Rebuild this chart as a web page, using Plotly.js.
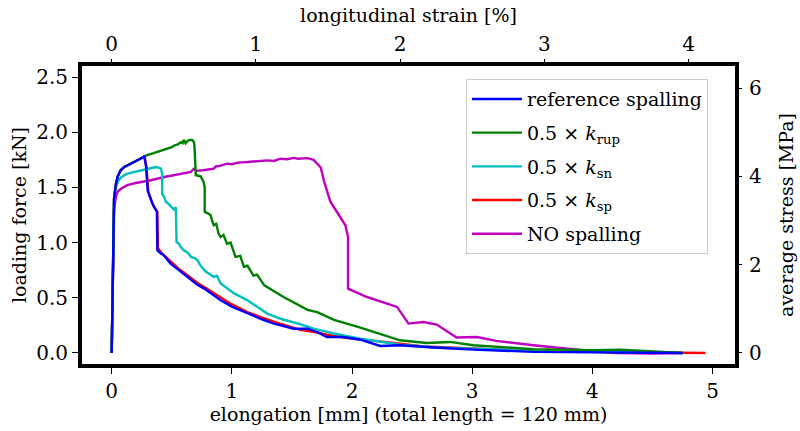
<!DOCTYPE html>
<html>
<head>
<meta charset="utf-8">
<script src="https://cdn.plot.ly/plotly-3.0.1.min.js"></script>
<style>html,body{margin:0;padding:0;background:#fff;} #chart{width:800px;height:431px;}</style>
</head>
<body>
<div id="chart"></div>
<script>
// ---- data (elongation in mm, force in kN) ----
const TOTAL_LENGTH_MM = 120;
const AREA_MM2 = 400;

const refX = [0, 0.012, 0.02, 0.035, 0.05, 0.075, 0.105, 0.15, 0.19, 0.23, 0.27, 0.285, 0.30, 0.315, 0.326, 0.34, 0.354, 0.365, 0.376, 0.38, 0.41, 0.43, 0.45, 0.49, 0.53, 0.575, 0.62, 0.66, 0.71, 0.77, 0.84, 0.907, 1.0, 1.13, 1.25, 1.35, 1.43, 1.515, 1.57, 1.63, 1.71, 1.79, 1.93, 2.07, 2.235, 2.40, 2.68, 3.01, 3.51, 4.0, 4.4, 4.75];
const refY = [0, 1.2, 1.40, 1.53, 1.60, 1.655, 1.685, 1.71, 1.73, 1.755, 1.78, 1.70, 1.47, 1.42, 1.38, 1.35, 1.32, 1.30, 1.28, 0.93, 0.90, 0.89, 0.86, 0.81, 0.775, 0.734, 0.70, 0.66, 0.62, 0.583, 0.53, 0.477, 0.42, 0.357, 0.305, 0.266, 0.245, 0.22, 0.22, 0.22, 0.19, 0.145, 0.145, 0.12, 0.063, 0.07, 0.049, 0.03, 0.01, 0.005, 0.002, 0.0];

const rupX = [0, 0.012, 0.02, 0.035, 0.05, 0.075, 0.105, 0.15, 0.19, 0.23, 0.27, 0.30, 0.35, 0.40, 0.45, 0.48, 0.50, 0.52, 0.55, 0.575, 0.59, 0.60, 0.615, 0.63, 0.645, 0.67, 0.685, 0.69, 0.70, 0.74, 0.765, 0.774, 0.774, 0.80, 0.824, 0.835, 0.85, 0.87, 0.89, 0.907, 0.93, 0.96, 0.99, 1.03, 1.07, 1.10, 1.13, 1.18, 1.21, 1.27, 1.43, 1.63, 1.71, 1.85, 2.07, 2.4, 2.62, 2.815, 3.01, 3.51, 4.0, 4.23, 4.5, 4.75];
const rupY = [0, 1.2, 1.40, 1.53, 1.60, 1.655, 1.685, 1.71, 1.73, 1.755, 1.78, 1.795, 1.81, 1.83, 1.845, 1.855, 1.865, 1.88, 1.89, 1.91, 1.90, 1.93, 1.90, 1.92, 1.93, 1.93, 1.91, 1.85, 1.61, 1.60, 1.55, 1.50, 1.28, 1.265, 1.247, 1.20, 1.157, 1.17, 1.08, 1.05, 1.07, 0.99, 1.00, 0.87, 0.88, 0.78, 0.79, 0.70, 0.71, 0.613, 0.507, 0.39, 0.37, 0.30, 0.23, 0.115, 0.09, 0.10, 0.07, 0.034, 0.025, 0.03, 0.015, 0];

const snX = [0, 0.012, 0.02, 0.035, 0.05, 0.077, 0.12, 0.19, 0.25, 0.30, 0.34, 0.368, 0.39, 0.41, 0.42, 0.42, 0.435, 0.45, 0.465, 0.48, 0.50, 0.52, 0.534, 0.54, 0.56, 0.575, 0.60, 0.617, 0.64, 0.66, 0.69, 0.714, 0.74, 0.78, 0.85, 0.875, 0.907, 1.02, 1.13, 1.295, 1.405, 1.57, 1.68, 1.85, 2.07, 2.4, 2.7, 2.95, 3.5, 4.0, 4.5, 4.75];
const snY = [0, 1.15, 1.40, 1.50, 1.55, 1.59, 1.62, 1.64, 1.655, 1.665, 1.675, 1.685, 1.68, 1.67, 1.625, 1.44, 1.42, 1.37, 1.36, 1.34, 1.32, 1.30, 1.32, 1.005, 0.99, 0.96, 0.93, 0.92, 0.90, 0.87, 0.86, 0.84, 0.79, 0.74, 0.69, 0.70, 0.63, 0.54, 0.477, 0.357, 0.31, 0.26, 0.22, 0.176, 0.13, 0.075, 0.05, 0.04, 0.02, 0.01, 0.003, 0];

const spX = [0, 0.012, 0.02, 0.035, 0.05, 0.075, 0.105, 0.15, 0.19, 0.23, 0.275, 0.29, 0.305, 0.33, 0.355, 0.38, 0.385, 0.42, 0.46, 0.50, 0.55, 0.60, 0.66, 0.72, 0.78, 0.85, 0.92, 1.0, 1.13, 1.25, 1.4, 1.57, 1.71, 1.79, 1.93, 2.07, 2.235, 2.4, 2.6, 2.8, 3.0, 3.5, 4.0, 4.5, 4.94];
const spY = [0, 1.2, 1.40, 1.53, 1.60, 1.655, 1.685, 1.71, 1.73, 1.755, 1.78, 1.68, 1.46, 1.38, 1.32, 1.28, 0.95, 0.90, 0.86, 0.82, 0.77, 0.73, 0.68, 0.63, 0.59, 0.54, 0.49, 0.44, 0.37, 0.32, 0.265, 0.21, 0.185, 0.165, 0.14, 0.125, 0.105, 0.085, 0.06, 0.05, 0.04, 0.02, 0.01, 0.004, 0];

const noX = [0, 0.012, 0.02, 0.035, 0.05, 0.08, 0.13, 0.2, 0.326, 0.437, 0.55, 0.66, 0.675, 0.685, 0.70, 0.76, 0.85, 0.866, 0.90, 0.96, 1.0, 1.05, 1.13, 1.2, 1.295, 1.35, 1.405, 1.46, 1.515, 1.55, 1.63, 1.68, 1.71, 1.74, 1.765, 1.82, 1.875, 1.945, 1.967, 1.967, 2.125, 2.375, 2.47, 2.595, 2.705, 2.87, 3.04, 3.2, 3.51, 3.92, 4.2, 4.5, 4.75];
const noY = [0, 0.9, 1.3, 1.42, 1.46, 1.49, 1.52, 1.54, 1.565, 1.594, 1.615, 1.64, 1.66, 1.67, 1.65, 1.655, 1.67, 1.69, 1.695, 1.715, 1.71, 1.725, 1.73, 1.735, 1.745, 1.74, 1.76, 1.755, 1.767, 1.76, 1.765, 1.75, 1.715, 1.68, 1.564, 1.37, 1.277, 1.157, 1.05, 0.583, 0.507, 0.417, 0.266, 0.28, 0.257, 0.14, 0.145, 0.11, 0.07, 0.024, 0.0, -0.005, 0];

const names = ["reference spalling", "0.5 × <i>k</i><sub>rup</sub>", "0.5 × <i>k</i><sub>sn</sub>", "0.5 × <i>k</i><sub>sp</sub>", "NO spalling"];
const colors = ["#0000ff", "#008000", "#00bfbf", "#ff0000", "#bf00bf"];

const xRange = [-0.247, 5.187];   // mm
const yRange = [-0.1, 2.6];       // kN

const FONT = "DejaVu Serif";
const FS = 19;
function tr(x, y, i, rank) {
  return {x: x, y: y, type: "scatter", mode: "lines", name: names[i],
    line: {color: colors[i], width: 2.4}, legendrank: rank, legendgroup: "g" + i, hoverinfo: "skip"};
}
const traces = [
  tr(noX, noY, 4, 5),
  tr(spX, spY, 3, 4),
  tr(snX, snY, 2, 3),
  tr(rupX, rupY, 1, 2),
  tr(refX, refY, 0, 1),
  {x: [], y: [], xaxis: "x2", yaxis: "y2", type: "scatter", mode: "lines", showlegend: false, hoverinfo: "skip"}
];

const axisCommon = {
  showgrid: false, zeroline: false, ticks: "outside", ticklen: 6, tickwidth: 1, tickcolor: "#000",
  tickfont: {family: FONT, size: FS + 1, color: "#000"}, linecolor: "#000", linewidth: 4
};

const layout = {
  width: 800, height: 431,
  margin: {l: 82, r: 65, t: 66, b: 67},
  paper_bgcolor: "#fff", plot_bgcolor: "#fff",
  font: {family: FONT, size: FS, color: "#000"},
  showlegend: true,
  xaxis: Object.assign({}, axisCommon, {range: xRange, dtick: 1, tick0: 0, showline: true, mirror: true,
    title: {text: "elongation [mm] (total length = 120 mm)", font: {family: FONT, size: FS}, standoff: 4}}),
  yaxis: Object.assign({}, axisCommon, {range: yRange, dtick: 0.5, tick0: 0, tickformat: ".1f", showline: true, mirror: true,
    title: {text: "loading force [kN]", font: {family: FONT, size: FS}, standoff: 6}}),
  xaxis2: Object.assign({}, axisCommon, {overlaying: "x", side: "top", anchor: "y", showline: false,
    range: xRange.map(v => v / TOTAL_LENGTH_MM * 100), dtick: 1, tick0: 0,
    title: {text: "longitudinal strain [%]", font: {family: FONT, size: FS}, standoff: 4}}),
  yaxis2: Object.assign({}, axisCommon, {overlaying: "y", side: "right", anchor: "x", showline: false,
    range: yRange.map(v => v * 1000 / AREA_MM2), dtick: 2, tick0: 0, ticklabelstandoff: 3,
    title: {text: "average stress [MPa]", font: {family: FONT, size: FS}, standoff: 18}}),
  legend: {x: 0.588, y: 0.956, xanchor: "left", yanchor: "top", bgcolor: "#fff",
    bordercolor: "#cccccc", borderwidth: 1, font: {family: FONT, size: FS}, tracegroupgap: 6,
    itemwidth: 50}
};

Plotly.newPlot("chart", traces, layout, {staticPlot: true});
</script>
</body>
</html>
